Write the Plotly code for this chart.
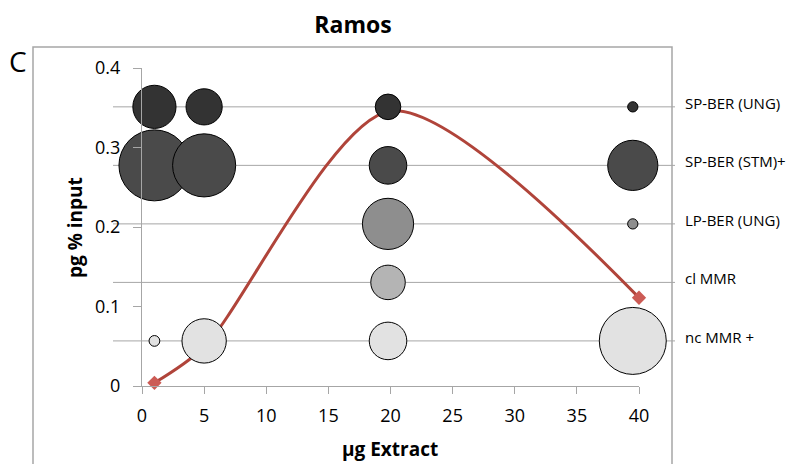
import plotly.graph_objects as go

# ---- data ----
rows = ["SP-BER (UNG)", "SP-BER (STM)+", "LP-BER (UNG)", "cl MMR", "nc MMR +"]
row_pos = [5, 4, 3, 2, 1]
row_colors = ["#333333", "#4a4a4a", "#8e8e8e", "#b4b4b4", "#e2e2e2"]
bubble_x = [1, 5, 19.8, 39.5]
# relative abundance per row (bubble area), None = not detected
bubble_sizes = [
    [0.37, 0.26, 0.13, 0.021],
    [1.00, 0.79, 0.28, 0.50],
    [None, None, 0.52, 0.021],
    [None, None, 0.236, None],
    [0.023, 0.39, 0.28, 0.89],
]
extract_ug = [1, 5, 20, 40]
pg_input = [0.004, 0.049, 0.346, 0.111]
x_ticks = [0, 5, 10, 15, 20, 25, 30, 35, 40]
y_ticks = [0, 0.1, 0.2, 0.3, 0.4]

# ---- page geometry ----
W, H = 789, 464
L, R, T, B = 142, 150, 68, 78
PW, PH = W - L - R, H - T - B


def px_x(p):
    return (p - L) / PW


def px_y(p):
    return (H - B - p) / PH


GRAY = "#a6a6a6"
FONT = "Open Sans"
max_d = 71
sizeref = 2 * max(v for r in bubble_sizes for v in r if v) / max_d ** 2

fig = go.Figure()

for name, pos, col, sizes in zip(rows, row_pos, row_colors, bubble_sizes):
    xs = [x for x, s in zip(bubble_x, sizes) if s]
    ss = [s for s in sizes if s]
    fig.add_trace(go.Scatter(
        x=xs, y=[pos] * len(xs), yaxis="y2", mode="markers", name=name,
        marker=dict(size=ss, sizemode="area", sizeref=sizeref, color=col,
                    line=dict(color="#000000", width=1), opacity=1),
        cliponaxis=False, showlegend=False, hoverinfo="skip",
    ))

fig.add_trace(go.Scatter(
    x=extract_ug, y=pg_input, mode="lines+markers",
    line=dict(color="#b0443a", width=3, shape="spline", smoothing=0.8),
    marker=dict(symbol="diamond", size=11, color="#cc5b55"),
    cliponaxis=False, showlegend=False,
))

shapes = [
    dict(type="rect", xref="paper", yref="paper",
         x0=px_x(33), x1=px_x(672), y0=px_y(480), y1=px_y(47),
         line=dict(color=GRAY, width=1.5), layer="below"),
]
for pos in row_pos:
    shapes.append(dict(type="line", xref="paper", yref="y2",
                       x0=px_x(113), x1=px_x(675), y0=pos, y1=pos,
                       line=dict(color=GRAY, width=1), layer="below"))

annotations = [
    dict(text=name, x=px_x(683), xref="paper", xanchor="left",
         y=pos, yref="y2", yanchor="middle", yshift=4, showarrow=False,
         font=dict(family=FONT, size=15, color="#000000"))
    for name, pos in zip(rows, row_pos)
]
annotations += [
    dict(text="C", x=px_x(18), y=px_y(61), xref="paper", yref="paper",
         xanchor="center", yanchor="middle", showarrow=False,
         font=dict(family=FONT, size=28, color="#000000")),
    dict(text="<b>µg Extract</b>", x=px_x(390), y=px_y(449),
         xref="paper", yref="paper", xanchor="center", yanchor="middle",
         showarrow=False, font=dict(family=FONT, size=19, color="#000000")),
    dict(text="<b>pg % input</b>", x=px_x(75), y=px_y(228),
         xref="paper", yref="paper", xanchor="center", yanchor="middle",
         textangle=-90, showarrow=False,
         font=dict(family=FONT, size=19, color="#000000")),
]

fig.update_layout(
    width=W, height=H,
    margin=dict(l=L, r=R, t=T, b=B, pad=0),
    paper_bgcolor="white", plot_bgcolor="white",
    title=dict(text="<b>Ramos</b>", x=353 / W, xanchor="center",
               y=1 - 25 / H, yanchor="middle", xref="container", yref="container",
               font=dict(family=FONT, size=23, color="#000000")),
    xaxis=dict(range=[0, 40], tickvals=x_ticks, ticks="outside", ticklen=7,
               tickcolor=GRAY, showline=True, linecolor=GRAY, linewidth=1.3,
               showgrid=False, zeroline=False, ticklabelstandoff=6,
               tickfont=dict(family=FONT, size=18, color="#000000")),
    yaxis=dict(range=[0, 0.4], tickvals=y_ticks, ticks="outside", ticklen=8,
               tickcolor=GRAY, showline=True, linecolor=GRAY, linewidth=1.3,
               showgrid=False, zeroline=False, ticklabelstandoff=9,
               tickfont=dict(family=FONT, size=18, color="#000000")),
    yaxis2=dict(overlaying="y", range=[0.2296, 5.664], visible=False),
    shapes=shapes, annotations=annotations,
)

fig.write_html("out.html")
